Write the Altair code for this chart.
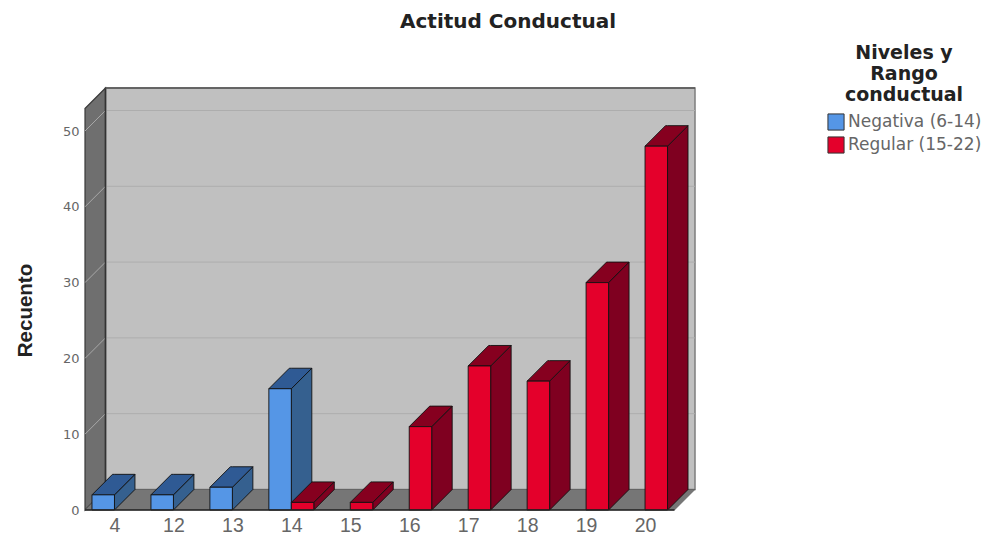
import altair as alt
import pandas as pd

categories = ["4", "12", "13", "14", "15", "16", "17", "18", "19", "20"]
negativa = [2, 2, 3, 16, 0, 0, 0, 0, 0, 0]
regular = [0, 0, 0, 1, 1, 11, 19, 17, 30, 48]
series_names = ["Negativa (6-14)", "Regular (15-22)"]
front_colors = ["#5596e6", "#e4002b"]
side_colors = ["#35608f", "#7f0020"]
top_colors = ["#2f5a94", "#86001f"]
y_ticks = [0, 10, 20, 30, 40, 50]
title_text = "Actitud Conductual"

# depth of the 3-D projection and bar width, in data units
PX_X, PX_Y = 59.0, 7.58
DX, DY = 20.5 / PX_X, 20.5 / PX_Y
BW = 22.5 / PX_X
X_MIN, X_MAX = -29.5 / PX_X, 581 / PX_X
Y_MAX = 422 / PX_Y
FRONT_R = X_MAX - DX
WALL_TOP = Y_MAX - DY

xs = alt.Scale(domain=[X_MIN, X_MAX], nice=False, zero=False)
ys = alt.Scale(domain=[0, Y_MAX], nice=False, zero=False)
X = lambda f="x": alt.X(f"{f}:Q", scale=xs, axis=None)
Y = lambda f="y": alt.Y(f"{f}:Q", scale=ys, axis=None)


def area(rows, color, stroke, sw=1.0, detail=False):
    enc = dict(x=X(), y=Y(), y2=alt.Y2("y2:Q"))
    if detail:
        enc["detail"] = "g:N"
    return alt.Chart(pd.DataFrame(rows)).mark_area(
        color=color, stroke=stroke, strokeWidth=sw, interpolate="linear", orient="vertical"
    ).encode(**enc)


def pts(g, seq):
    return [dict(g=g, o=i, x=a, y=b, y2=c) for i, (a, b, c) in enumerate(seq)]


label_expr = "[" + ",".join(f"'{c}'" for c in categories) + "][datum.value]"
axes = alt.Chart(pd.DataFrame({"x": [0.0], "y": [0.0]})).mark_point(opacity=0).encode(
    x=alt.X("x:Q", scale=xs, axis=alt.Axis(
        values=list(range(len(categories))), labelExpr=label_expr, title=None, grid=False, domain=False,
        ticks=False, labelFont="Liberation Sans", labelFontSize=19.5, labelColor="#666666", labelPadding=6,
    )),
    y=alt.Y("y:Q", scale=ys, axis=alt.Axis(
        values=y_ticks, title="Recuento", grid=False, domain=False, ticks=False,
        labelFont="DejaVu Sans", labelFontSize=13, labelColor="#666666", labelPadding=6,
        titleFont="Liberation Sans", titleFontSize=20.5, titleFontWeight="bold", titleColor="#222222",
        titlePadding=27, titleY=222,
    )),
)

# walls and floor
left_wall = area(pts(0, [(X_MIN, WALL_TOP, 0), (X_MIN + DX, Y_MAX, DY)]), "#6f6f6f", "#3a3a3a", 1.2)
floor = area(
    pts(0, [(X_MIN, 0, 0), (X_MIN + DX, DY, 0), (FRONT_R, DY, 0), (X_MAX, DY, DY)]),
    "#767676", "#555555", 0.6,
)
back_wall = alt.Chart(pd.DataFrame([dict(x=X_MIN + DX, x2=X_MAX, y=DY, y2=Y_MAX)])).mark_rect(
    color="#c0c0c0", stroke="#7d7d7d", strokeWidth=1.5
).encode(x=X(), x2="x2:Q", y=Y(), y2="y2:Q")

grid_df = pd.DataFrame([dict(x=X_MIN + DX, x2=X_MAX, y=v + DY) for v in y_ticks[1:]])
grid = alt.Chart(grid_df).mark_rule(color="#adadad", strokeWidth=1).encode(x=X(), x2="x2:Q", y=Y())
diag_rows = []
for v in y_ticks[1:]:
    diag_rows += [dict(g=v, o=0, x=X_MIN, y=v), dict(g=v, o=1, x=X_MIN + DX, y=v + DY)]
diag = alt.Chart(pd.DataFrame(diag_rows)).mark_line(color="#a8a8a8", strokeWidth=1).encode(
    x=X(), y=Y(), detail="g:N", order="o:Q"
)
back_edge = alt.Chart(pd.DataFrame([dict(x=X_MIN + DX, y=DY, y2=Y_MAX)])).mark_rule(
    color="#333333", strokeWidth=1.5
).encode(x=X(), y=Y(), y2="y2:Q")
top_edge = alt.Chart(pd.DataFrame([dict(x=X_MIN + DX, x2=X_MAX, y=Y_MAX)])).mark_rule(
    color="#555555", strokeWidth=1.5
).encode(x=X(), x2="x2:Q", y=Y())
base = alt.Chart(pd.DataFrame([dict(x=X_MIN, x2=FRONT_R, y=0)])).mark_rule(
    color="#222222", strokeWidth=1.5
).encode(x=X(), x2="x2:Q", y=Y())

title_mark = alt.Chart(pd.DataFrame({"t": [title_text]})).mark_text(
    font="DejaVu Sans", fontSize=20, fontWeight="bold", color="#222222", align="center", baseline="middle"
).encode(text="t:N", x=alt.value(423), y=alt.value(-66))

# bars
layers = [axes, back_wall, grid, left_wall, diag, floor, back_edge, top_edge]
legend = alt.Legend(
    title=["Niveles y", "Rango", "conductual"], orient="none", legendX=742, legendY=-44,
    titleFont="DejaVu Sans", titleFontSize=19, titleFontWeight="bold", titleColor="#222222",
    titleAlign="center", titleAnchor="middle", titleLineHeight=21, titlePadding=8,
    labelFont="DejaVu Sans", labelFontSize=17, labelColor="#666666",
    symbolType="square", symbolSize=260, symbolStrokeColor="#333333", symbolStrokeWidth=1,
    rowPadding=1, labelOffset=3, symbolOpacity=1,
)
for s, values in enumerate([negativa, regular]):
    off = -BW if s == 0 else 0.0
    side, top, front = [], [], []
    for i, v in enumerate(values):
        if v <= 0:
            continue
        l, r = i + off, i + off + BW
        side += pts(i, [(r, v, 0), (r + DX, v + DY, DY)])
        top += pts(i, [(l, v, v), (l + DX, v, v + DY), (r, v, v + DY), (r + DX, v + DY, v + DY)])
        front.append(dict(x=l, x2=r, y=v, y2=0, s=series_names[s]))
    layers.append(area(side, side_colors[s], "#111111", 0.9, True))
    layers.append(area(top, top_colors[s], "#111111", 0.9, True))
    layers.append(
        alt.Chart(pd.DataFrame(front)).mark_rect(stroke="#111111", strokeWidth=0.9).encode(
            x=X(), x2="x2:Q", y=Y(), y2="y2:Q",
            color=alt.Color("s:N", scale=alt.Scale(domain=series_names, range=front_colors), legend=legend),
        )
    )
layers.append(base)
layers.append(title_mark)

chart = alt.layer(*layers).resolve_axis(x="independent", y="independent").properties(
    width=610, height=422,
    autosize=alt.AutoSizeParams(type="none"),
    padding={"left": 77, "top": 80, "right": 291, "bottom": 26},
).configure_view(stroke=None)

chart.save("out.html", embed_options={"renderer": "svg", "actions": False})
